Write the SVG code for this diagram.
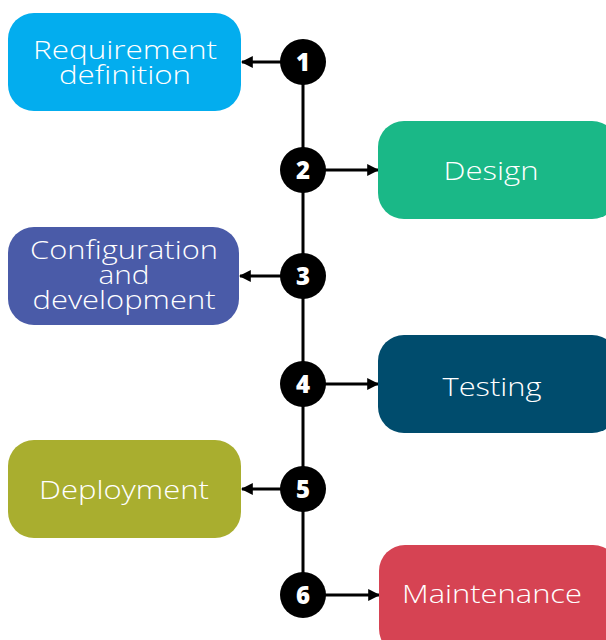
<svg xmlns="http://www.w3.org/2000/svg" width="606" height="640" viewBox="0 0 606 640">
<defs>
<marker id="ah" viewBox="0 0 10 10" refX="9" refY="5" markerWidth="4" markerHeight="4" orient="auto" markerUnits="strokeWidth">
<path d="M0,0 L10,5 L0,10 Z" fill="#000"/>
</marker>
<style>
.box{stroke:none}
.lbl{font-family:"Open Sans","DejaVu Sans",sans-serif;font-weight:300;font-size:25px;fill:#fff;text-anchor:middle}
.num{font-family:"Open Sans","DejaVu Sans",sans-serif;font-weight:800;font-size:24px;fill:#fff;text-anchor:middle}
.dot{fill:#000}
.ln{stroke:#000;stroke-width:3;fill:none}
</style>
</defs>
<rect width="606" height="640" fill="#fff"/>
<g id="connectors">
<line class="ln" x1="303" y1="62" x2="303" y2="595"/>
<line class="ln" x1="282" y1="62" x2="242" y2="62" marker-end="url(#ah)"/>
<line class="ln" x1="324" y1="170" x2="378" y2="170" marker-end="url(#ah)"/>
<line class="ln" x1="282" y1="276" x2="240" y2="276" marker-end="url(#ah)"/>
<line class="ln" x1="324" y1="384" x2="378" y2="384" marker-end="url(#ah)"/>
<line class="ln" x1="282" y1="489" x2="242" y2="489" marker-end="url(#ah)"/>
<line class="ln" x1="324" y1="595" x2="379" y2="595" marker-end="url(#ah)"/>
</g>
<g id="node-requirement">
<rect class="box" x="8" y="13" width="233" height="98" rx="26" fill="#03adee"/>
<text class="lbl" x="125" y="59" textLength="184" lengthAdjust="spacingAndGlyphs">Requirement</text>
<text class="lbl" x="125" y="84" textLength="132" lengthAdjust="spacingAndGlyphs">definition</text>
</g>
<g id="node-design">
<rect class="box" x="378" y="121" width="240" height="98" rx="26" fill="#1ab887"/>
<text class="lbl" x="491" y="180" textLength="95" lengthAdjust="spacingAndGlyphs">Design</text>
</g>
<g id="node-configuration">
<rect class="box" x="8" y="227" width="231" height="98" rx="26" fill="#4a5ba8"/>
<text class="lbl" x="124" y="259" textLength="188" lengthAdjust="spacingAndGlyphs">Configuration</text>
<text class="lbl" x="124" y="284" textLength="51" lengthAdjust="spacingAndGlyphs">and</text>
<text class="lbl" x="124" y="309" textLength="183" lengthAdjust="spacingAndGlyphs">development</text>
</g>
<g id="node-testing">
<rect class="box" x="378" y="335" width="240" height="98" rx="26" fill="#004c6d"/>
<text class="lbl" x="492" y="396" textLength="99" lengthAdjust="spacingAndGlyphs">Testing</text>
</g>
<g id="node-deployment">
<rect class="box" x="8" y="440" width="233" height="98" rx="26" fill="#a9ae2f"/>
<text class="lbl" x="124" y="499" textLength="170" lengthAdjust="spacingAndGlyphs">Deployment</text>
</g>
<g id="node-maintenance">
<rect class="box" x="379" y="545" width="240" height="110" rx="26" fill="#d64353"/>
<text class="lbl" x="492" y="603" textLength="180" lengthAdjust="spacingAndGlyphs">Maintenance</text>
</g>
<g id="step-1"><circle class="dot" cx="303" cy="62" r="23"/><text class="num" x="303" y="71">1</text></g>
<g id="step-2"><circle class="dot" cx="303" cy="170" r="23"/><text class="num" x="303" y="179">2</text></g>
<g id="step-3"><circle class="dot" cx="303" cy="276" r="23"/><text class="num" x="303" y="285">3</text></g>
<g id="step-4"><circle class="dot" cx="303" cy="384" r="23"/><text class="num" x="303" y="393">4</text></g>
<g id="step-5"><circle class="dot" cx="303" cy="489" r="23"/><text class="num" x="303" y="498">5</text></g>
<g id="step-6"><circle class="dot" cx="303" cy="595" r="23"/><text class="num" x="303" y="604">6</text></g>
</svg>
